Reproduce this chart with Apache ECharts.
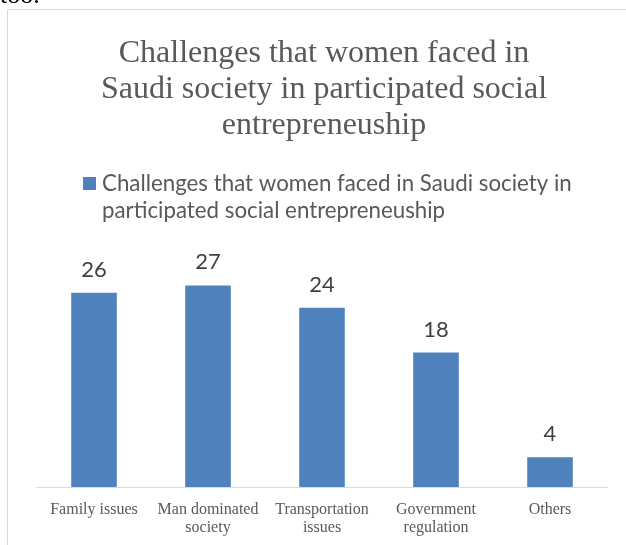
<!DOCTYPE html>
<html><head><meta charset="utf-8">
<script src="https://cdn.jsdelivr.net/npm/echarts@6/dist/echarts.min.js"></script>
<style>html,body{margin:0;padding:0;background:#fff}#c{width:626px;height:545px}</style>
</head><body><div id="c"></div>
<script>
const titleText = 'Challenges that women faced in\nSaudi society in participated social\nentrepreneuship';
const seriesName = 'Challenges that women faced in Saudi society in participated social entrepreneuship';
const categories = ['Family issues', 'Man dominated\nsociety', 'Transportation\nissues', 'Government\nregulation', 'Others'];
const values = [26, 27, 24, 18, 4];

const chart = echarts.init(document.getElementById('c'), null, {renderer: 'canvas'});
chart.setOption({
  animation: false,
  backgroundColor: '#fff',
  title: {
    text: titleText,
    left: 319, textAlign: 'center', top: 31,
    textStyle: {fontFamily: 'Liberation Serif', fontSize: 32, fontWeight: 'normal', color: '#595959', lineHeight: 36}
  },
  legend: {
    left: 78, top: 138,
    itemWidth: 13, itemHeight: 13, itemGap: 0,
    icon: 'rect',
    formatter: () => '\nChallenges that women faced in Saudi society in\nparticipated social entrepreneuship',
    textStyle: {fontFamily: 'Lato', fontSize: 22.3, color: '#595959', lineHeight: 27, padding: [0, 0, 0, 1]}
  },
  graphic: [
    {type: 'rect', shape: {x: 7.5, y: 9.5, width: 700, height: 700}, style: {fill: 'none', stroke: '#d9d9d9', lineWidth: 1}, silent: true},
    {type: 'text', x: 0, y: 9, style: {text: 'too.', font: '26px "Liberation Serif"', fill: '#000', verticalAlign: 'bottom'}, silent: true}
  ],
  grid: {left: 37, right: 19, top: 263, bottom: 58},
  xAxis: {
    type: 'category', data: categories,
    axisLine: {lineStyle: {color: '#d9d9d9', width: 1}},
    axisTick: {show: false},
    axisLabel: {fontFamily: 'Liberation Serif', fontSize: 16, color: '#595959', lineHeight: 18, margin: 14, interval: 0}
  },
  yAxis: {type: 'value', min: 0, max: 30, show: false, splitLine: {show: false}},
  series: [{
    name: seriesName, type: 'bar', data: values,
    barCategoryGap: '60%',
    itemStyle: {color: '#4f81bd'},
    label: {show: true, position: 'top', distance: 12, fontFamily: 'Lato', fontSize: 22, color: '#404040'}
  }]
});
</script></body></html>
